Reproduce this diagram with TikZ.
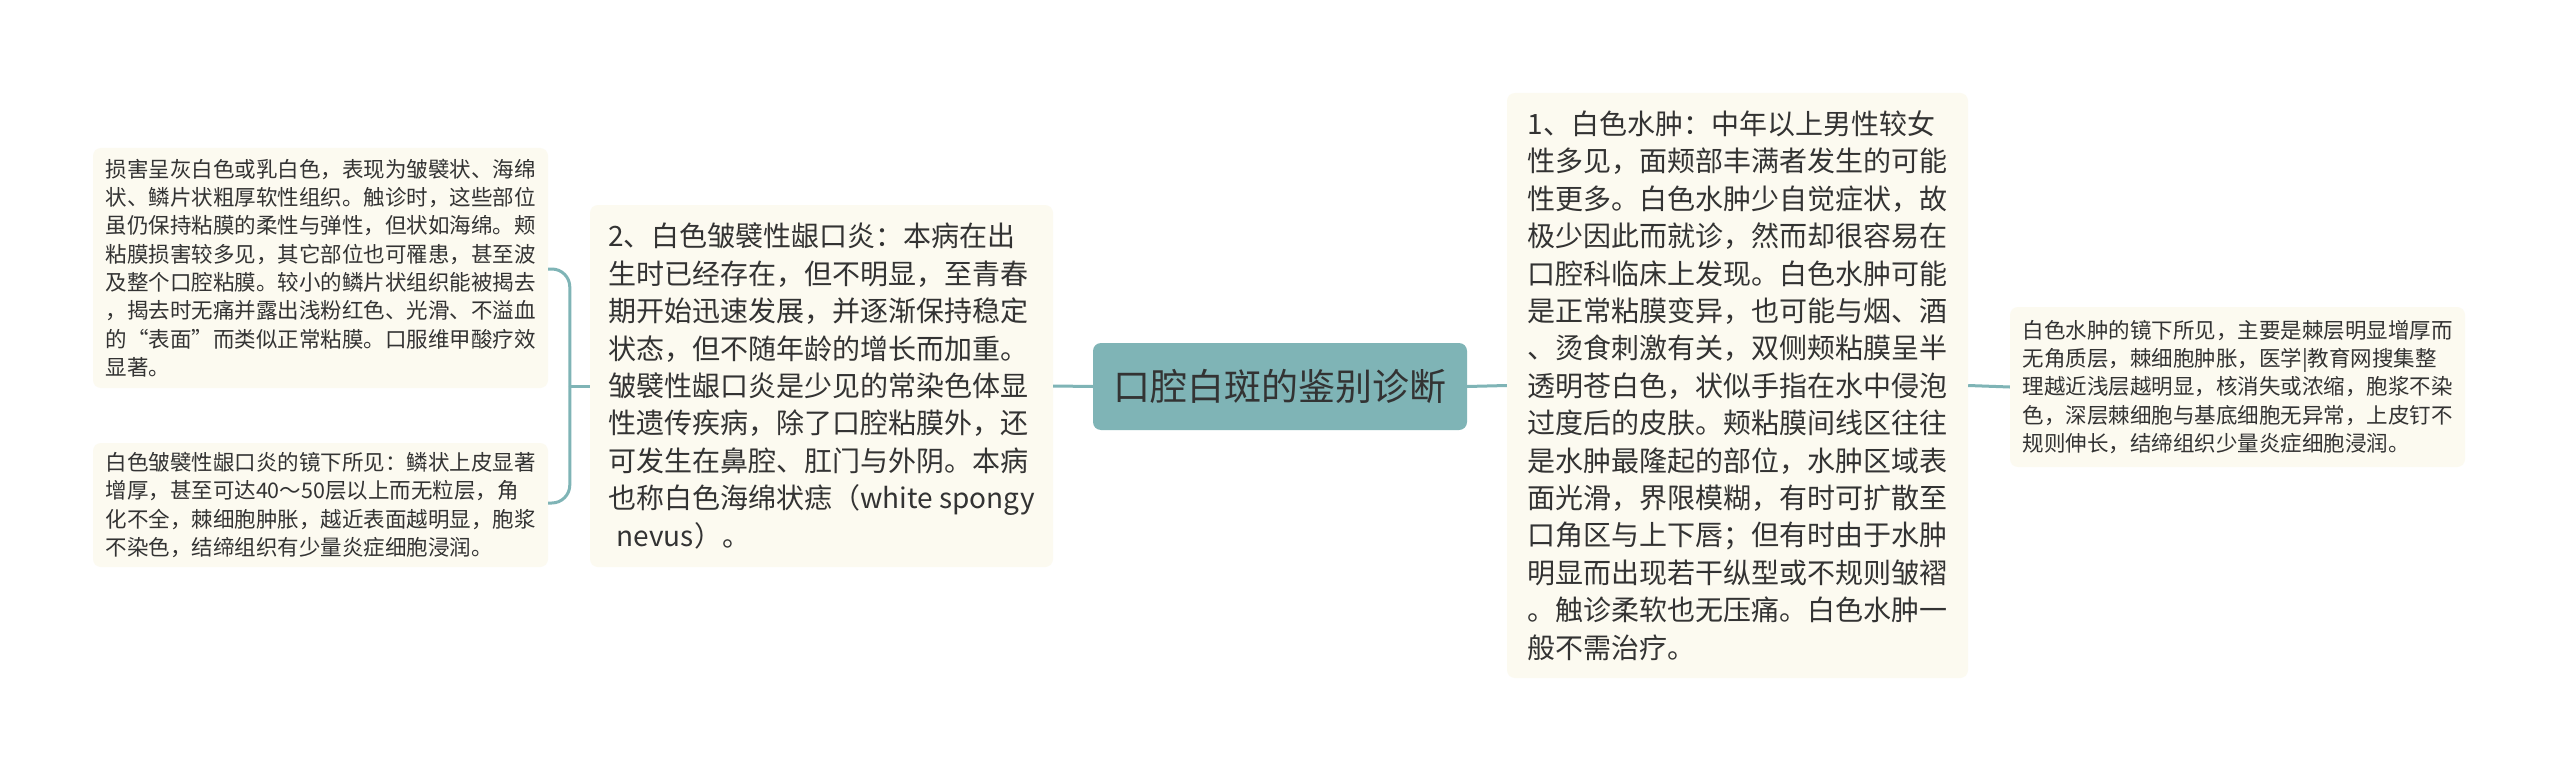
\documentclass[tikz,border=0pt]{standalone}
\usepackage{fontspec}
\setmainfont{Noto Sans CJK SC}
\definecolor{teal1}{HTML}{7FB4B6}
\definecolor{cream}{HTML}{FCFAF0}
\definecolor{txt}{HTML}{333333}
\tikzset{
  leaf/.style={fill=cream, draw=none, rounded corners=8pt, align=left, text=txt, inner sep=0pt},
  bigtxt/.style={font=\fontsize{28}{37.4}\selectfont},
  smalltxt/.style={font=\fontsize{21.5}{28.3}\selectfont},
  rootbox/.style={fill=teal1, draw=none, rounded corners=8pt, text=txt, font=\fontsize{37}{44}\selectfont, inner sep=0pt},
  conn/.style={draw=teal1, line width=3pt},
}
\begin{document}
\begin{tikzpicture}[x=1pt,y=-1pt]
\useasboundingbox (0,0) rectangle (2560,773);
\fill[white] (0,0) rectangle (2560,773);

\node[rootbox, minimum width=374pt, minimum height=87pt] (c) at (1280,386.5) {口腔白斑的鉴别诊断};

\node[leaf, bigtxt, minimum width=463pt, minimum height=362pt] (ml) at (821.5,386) {2、白色皱襞性龈口炎：本病在出\\生时已经存在，但不明显，至青春\\期开始迅速发展，并逐渐保持稳定\\状态，但不随年龄的增长而加重。\\皱襞性龈口炎是少见的常染色体显\\性遗传疾病，除了口腔粘膜外，还\\可发生在鼻腔、肛门与外阴。本病\\也称白色海绵状痣（white spongy\\\hspace*{0.3em}nevus）。};

\node[leaf, smalltxt, minimum width=455pt, minimum height=240pt] (lt) at (320.5,268) {损害呈灰白色或乳白色，表现为皱襞状、海绵\\状、鳞片状粗厚软性组织。触诊时，这些部位\\虽仍保持粘膜的柔性与弹性，但状如海绵。颊\\粘膜损害较多见，其它部位也可罹患，甚至波\\及整个口腔粘膜。较小的鳞片状组织能被揭去\\，揭去时无痛并露出浅粉红色、光滑、不溢血\\的“表面”而类似正常粘膜。口服维甲酸疗效\\显著。};

\node[leaf, smalltxt, minimum width=455pt, minimum height=124pt] (lb) at (320.5,505) {白色皱襞性龈口炎的镜下所见：鳞状上皮显著\\增厚，甚至可达40～50层以上而无粒层，角\\化不全，棘细胞肿胀，越近表面越明显，胞浆\\不染色，结缔组织有少量炎症细胞浸润。};

\node[leaf, bigtxt, minimum width=461pt, minimum height=585pt] (mr) at (1737.5,385.5) {1、白色水肿：中年以上男性较女\\性多见，面颊部丰满者发生的可能\\性更多。白色水肿少自觉症状，故\\极少因此而就诊，然而却很容易在\\口腔科临床上发现。白色水肿可能\\是正常粘膜变异，也可能与烟、酒\\、烫食刺激有关，双侧颊粘膜呈半\\透明苍白色，状似手指在水中侵泡\\过度后的皮肤。颊粘膜间线区往往\\是水肿最隆起的部位，水肿区域表\\面光滑，界限模糊，有时可扩散至\\口角区与上下唇；但有时由于水肿\\明显而出现若干纵型或不规则皱褶\\。触诊柔软也无压痛。白色水肿一\\般不需治疗。};

\node[leaf, smalltxt, minimum width=455pt, minimum height=160pt] (rs) at (2237.5,387) {白色水肿的镜下所见，主要是棘层明显增厚而\\无角质层，棘细胞肿胀，医学|教育网搜集整\\理越近浅层越明显，核消失或浓缩，胞浆不染\\色，深层棘细胞与基底细胞无异常，上皮钉不\\规则伸长，结缔组织少量炎症细胞浸润。};

\draw[conn] (c.west) -- (ml.east);
\draw[conn] (c.east) -- (mr.west);
\draw[conn] (mr.east) -- (rs.west);
\draw[conn] (ml.west) -- ++(-20,0) coordinate (j);
\draw[conn, rounded corners=18pt] (j) |- ([yshift=-1pt]lt.east);
\draw[conn, rounded corners=18pt] (j) |- ([yshift=2pt]lb.east);
\end{tikzpicture}
\end{document}
